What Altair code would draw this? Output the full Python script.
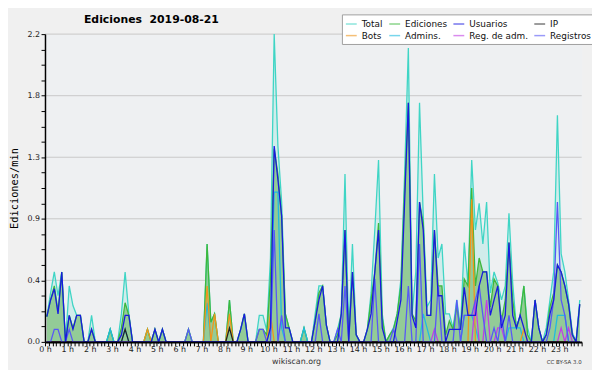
import altair as alt
import pandas as pd

slots_per_hour = 6

# legend order (the legend fills column by column: two rows of four)
series_names = ["Total", "Bots", "Ediciones", "Admins.", "Usuarios", "Reg. de adm.", "IP", "Registros"]
series_colors = ["#3fd5c5", "#f0961c", "#3db83d", "#1fbbe0", "#1a1ae0", "#c23fe4", "#222222", "#5858f6"]
draw_order = ["Total", "Ediciones", "Admins.", "Bots", "Reg. de adm.", "IP", "Registros", "Usuarios"]

# one row per hour, six 10-minute slots each (edits/min)
total = [
    [0.18, 0.35, 0.50, 0.33, 0.50, 0.00],
    [0.40, 0.26, 0.19, 0.19, 0.00, 0.00],
    [0.19, 0.00, 0.00, 0.00, 0.00, 0.09],
    [0.00, 0.00, 0.20, 0.50, 0.20, 0.00],
    [0.00, 0.00, 0.00, 0.09, 0.00, 0.09],
    [0.00, 0.09, 0.00, 0.00, 0.00, 0.00],
    [0.00, 0.00, 0.09, 0.00, 0.00, 0.00],
    [0.00, 0.70, 0.14, 0.20, 0.00, 0.00],
    [0.00, 0.30, 0.00, 0.00, 0.09, 0.20],
    [0.00, 0.00, 0.00, 0.19, 0.19, 0.08],
    [0.60, 2.20, 1.40, 1.00, 0.20, 0.10],
    [0.00, 0.00, 0.00, 0.10, 0.00, 0.00],
    [0.20, 0.40, 0.40, 0.12, 0.00, 0.00],
    [0.09, 0.20, 1.20, 0.05, 0.70, 0.05],
    [0.00, 0.00, 0.09, 0.35, 0.80, 1.30],
    [0.20, 0.00, 0.05, 0.10, 0.20, 0.45],
    [1.20, 2.10, 0.20, 0.50, 1.71, 0.90],
    [0.25, 0.30, 1.20, 0.60, 0.70, 0.20],
    [0.20, 0.10, 0.30, 0.10, 0.71, 0.41],
    [1.30, 0.80, 0.99, 0.70, 1.00, 0.35],
    [0.50, 0.42, 0.30, 0.40, 0.92, 0.42],
    [0.10, 0.19, 0.40, 0.10, 0.00, 0.30],
    [0.10, 0.00, 0.10, 0.30, 0.50, 1.62],
    [0.63, 0.50, 0.30, 0.07, 0.00, 0.30],
]

ediciones = [
    [0.18, 0.30, 0.40, 0.22, 0.50, 0.00],
    [0.19, 0.10, 0.19, 0.19, 0.00, 0.00],
    [0.09, 0.00, 0.00, 0.00, 0.00, 0.09],
    [0.00, 0.00, 0.10, 0.28, 0.19, 0.00],
    [0.00, 0.00, 0.00, 0.09, 0.00, 0.09],
    [0.00, 0.09, 0.00, 0.00, 0.00, 0.00],
    [0.00, 0.00, 0.09, 0.00, 0.00, 0.00],
    [0.00, 0.70, 0.14, 0.20, 0.00, 0.00],
    [0.00, 0.30, 0.00, 0.00, 0.09, 0.20],
    [0.00, 0.00, 0.00, 0.09, 0.09, 0.05],
    [0.45, 1.38, 1.20, 0.90, 0.20, 0.10],
    [0.00, 0.00, 0.00, 0.10, 0.00, 0.00],
    [0.15, 0.35, 0.40, 0.12, 0.00, 0.00],
    [0.05, 0.20, 0.80, 0.02, 0.50, 0.05],
    [0.00, 0.00, 0.09, 0.30, 0.50, 0.85],
    [0.17, 0.00, 0.05, 0.09, 0.20, 0.40],
    [1.10, 1.71, 0.20, 0.15, 1.00, 0.85],
    [0.19, 0.19, 0.80, 0.40, 0.40, 0.05],
    [0.15, 0.09, 0.25, 0.09, 0.45, 0.40],
    [1.10, 0.40, 0.60, 0.50, 0.50, 0.25],
    [0.45, 0.40, 0.15, 0.30, 0.71, 0.30],
    [0.10, 0.19, 0.40, 0.05, 0.00, 0.30],
    [0.10, 0.00, 0.05, 0.25, 0.35, 0.55],
    [0.50, 0.40, 0.27, 0.05, 0.00, 0.27],
]

usuarios = [
    [0.18, 0.30, 0.38, 0.20, 0.50, 0.00],
    [0.19, 0.09, 0.19, 0.19, 0.00, 0.00],
    [0.09, 0.00, 0.00, 0.00, 0.00, 0.00],
    [0.00, 0.00, 0.05, 0.19, 0.19, 0.00],
    [0.00, 0.00, 0.00, 0.00, 0.00, 0.09],
    [0.00, 0.09, 0.00, 0.00, 0.00, 0.00],
    [0.00, 0.00, 0.00, 0.00, 0.00, 0.00],
    [0.00, 0.00, 0.00, 0.00, 0.00, 0.00],
    [0.00, 0.00, 0.00, 0.00, 0.09, 0.20],
    [0.00, 0.00, 0.00, 0.00, 0.00, 0.00],
    [0.10, 1.40, 1.16, 0.90, 0.10, 0.10],
    [0.00, 0.00, 0.00, 0.00, 0.00, 0.00],
    [0.15, 0.30, 0.40, 0.12, 0.00, 0.00],
    [0.00, 0.20, 0.80, 0.00, 0.50, 0.05],
    [0.00, 0.00, 0.09, 0.20, 0.50, 0.80],
    [0.10, 0.00, 0.00, 0.00, 0.15, 0.30],
    [1.00, 1.71, 0.19, 0.10, 1.00, 0.80],
    [0.19, 0.19, 0.80, 0.33, 0.33, 0.00],
    [0.09, 0.09, 0.09, 0.09, 0.39, 0.19],
    [0.19, 0.19, 0.40, 0.50, 0.50, 0.19],
    [0.30, 0.40, 0.10, 0.19, 0.71, 0.19],
    [0.10, 0.19, 0.10, 0.00, 0.00, 0.30],
    [0.10, 0.00, 0.05, 0.20, 0.30, 0.55],
    [0.50, 0.40, 0.27, 0.05, 0.00, 0.27],
]

registros = [
    [0.00, 0.00, 0.09, 0.09, 0.00, 0.00],
    [0.09, 0.00, 0.00, 0.00, 0.00, 0.00],
    [0.00, 0.00, 0.00, 0.00, 0.00, 0.00],
    [0.00, 0.00, 0.00, 0.00, 0.00, 0.00],
    [0.00, 0.00, 0.00, 0.00, 0.00, 0.00],
    [0.00, 0.00, 0.00, 0.00, 0.00, 0.00],
    [0.00, 0.00, 0.09, 0.00, 0.00, 0.00],
    [0.00, 0.00, 0.00, 0.00, 0.00, 0.00],
    [0.00, 0.00, 0.00, 0.00, 0.00, 0.00],
    [0.00, 0.00, 0.00, 0.09, 0.09, 0.00],
    [0.00, 0.80, 0.00, 0.19, 0.00, 0.00],
    [0.00, 0.00, 0.00, 0.00, 0.00, 0.00],
    [0.00, 0.20, 0.00, 0.00, 0.00, 0.00],
    [0.09, 0.00, 0.40, 0.00, 0.00, 0.00],
    [0.00, 0.00, 0.00, 0.00, 0.45, 0.00],
    [0.00, 0.00, 0.00, 0.09, 0.00, 0.00],
    [0.00, 0.40, 0.00, 0.00, 0.70, 0.00],
    [0.00, 0.00, 0.00, 0.40, 0.00, 0.00],
    [0.00, 0.00, 0.30, 0.00, 0.19, 0.19],
    [0.19, 0.30, 0.40, 0.19, 0.00, 0.00],
    [0.10, 0.00, 0.19, 0.00, 0.19, 0.00],
    [0.00, 0.00, 0.00, 0.00, 0.00, 0.00],
    [0.00, 0.00, 0.00, 0.10, 0.30, 1.00],
    [0.30, 0.19, 0.00, 0.00, 0.00, 0.00],
]

admins = [
    [0.00, 0.00, 0.00, 0.00, 0.00, 0.00],
    [0.00, 0.00, 0.00, 0.00, 0.00, 0.00],
    [0.00, 0.00, 0.00, 0.00, 0.00, 0.09],
    [0.00, 0.00, 0.00, 0.09, 0.00, 0.00],
    [0.00, 0.00, 0.00, 0.00, 0.00, 0.00],
    [0.00, 0.00, 0.00, 0.00, 0.00, 0.00],
    [0.00, 0.00, 0.00, 0.00, 0.00, 0.00],
    [0.00, 0.28, 0.00, 0.00, 0.00, 0.00],
    [0.00, 0.00, 0.00, 0.00, 0.00, 0.00],
    [0.00, 0.00, 0.00, 0.00, 0.00, 0.00],
    [0.10, 1.07, 1.07, 0.10, 0.00, 0.00],
    [0.00, 0.00, 0.00, 0.10, 0.00, 0.00],
    [0.00, 0.00, 0.00, 0.00, 0.00, 0.00],
    [0.00, 0.00, 0.00, 0.00, 0.00, 0.00],
    [0.00, 0.00, 0.00, 0.00, 0.00, 0.00],
    [0.00, 0.00, 0.00, 0.00, 0.00, 0.00],
    [0.00, 0.00, 0.00, 0.00, 0.00, 0.20],
    [0.10, 0.00, 0.00, 0.00, 0.00, 0.00],
    [0.00, 0.00, 0.00, 0.00, 0.19, 0.19],
    [0.19, 0.10, 0.00, 0.00, 0.00, 0.00],
    [0.00, 0.00, 0.00, 0.00, 0.10, 0.10],
    [0.10, 0.10, 0.00, 0.00, 0.00, 0.00],
    [0.00, 0.00, 0.00, 0.00, 0.00, 0.19],
    [0.19, 0.19, 0.00, 0.00, 0.00, 0.00],
]

bots = [
    [0.00, 0.00, 0.00, 0.00, 0.00, 0.00],
    [0.00, 0.00, 0.00, 0.00, 0.00, 0.00],
    [0.00, 0.00, 0.00, 0.00, 0.00, 0.00],
    [0.00, 0.00, 0.00, 0.00, 0.00, 0.00],
    [0.00, 0.00, 0.00, 0.09, 0.00, 0.00],
    [0.00, 0.00, 0.00, 0.00, 0.00, 0.00],
    [0.00, 0.00, 0.00, 0.00, 0.00, 0.00],
    [0.00, 0.40, 0.00, 0.20, 0.00, 0.00],
    [0.00, 0.20, 0.00, 0.00, 0.00, 0.00],
    [0.00, 0.00, 0.00, 0.00, 0.00, 0.00],
    [0.20, 0.00, 0.00, 0.00, 0.00, 0.00],
    [0.00, 0.00, 0.00, 0.00, 0.00, 0.00],
    [0.00, 0.00, 0.00, 0.00, 0.00, 0.00],
    [0.00, 0.00, 0.00, 0.00, 0.00, 0.00],
    [0.00, 0.00, 0.00, 0.00, 0.00, 0.00],
    [0.00, 0.00, 0.00, 0.00, 0.00, 0.00],
    [0.00, 0.00, 0.00, 0.00, 0.00, 0.00],
    [0.00, 0.00, 0.00, 0.00, 0.00, 0.00],
    [0.00, 0.00, 0.00, 0.00, 0.00, 0.00],
    [1.02, 0.00, 0.00, 0.00, 0.00, 0.00],
    [0.00, 0.00, 0.00, 0.00, 0.00, 0.00],
    [0.00, 0.00, 0.09, 0.00, 0.00, 0.00],
    [0.00, 0.00, 0.00, 0.00, 0.00, 0.00],
    [0.00, 0.00, 0.00, 0.00, 0.00, 0.00],
]

reg_adm = [
    [0.00, 0.00, 0.00, 0.00, 0.00, 0.00],
    [0.00, 0.00, 0.00, 0.00, 0.00, 0.00],
    [0.00, 0.00, 0.00, 0.00, 0.00, 0.00],
    [0.00, 0.00, 0.00, 0.00, 0.00, 0.00],
    [0.00, 0.00, 0.00, 0.00, 0.00, 0.00],
    [0.00, 0.00, 0.00, 0.00, 0.00, 0.00],
    [0.00, 0.00, 0.00, 0.00, 0.00, 0.00],
    [0.00, 0.00, 0.00, 0.00, 0.00, 0.00],
    [0.00, 0.00, 0.00, 0.00, 0.00, 0.00],
    [0.00, 0.00, 0.00, 0.00, 0.00, 0.00],
    [0.00, 0.00, 0.00, 0.00, 0.00, 0.00],
    [0.00, 0.00, 0.00, 0.00, 0.00, 0.00],
    [0.00, 0.00, 0.00, 0.00, 0.00, 0.00],
    [0.00, 0.00, 0.00, 0.00, 0.00, 0.00],
    [0.00, 0.00, 0.00, 0.00, 0.00, 0.00],
    [0.00, 0.00, 0.00, 0.00, 0.00, 0.00],
    [0.00, 0.00, 0.00, 0.00, 0.00, 0.00],
    [0.00, 0.00, 0.09, 0.00, 0.00, 0.00],
    [0.00, 0.00, 0.00, 0.00, 0.00, 0.00],
    [0.00, 0.30, 0.00, 0.00, 0.30, 0.00],
    [0.00, 0.10, 0.10, 0.00, 0.00, 0.00],
    [0.00, 0.00, 0.00, 0.00, 0.00, 0.00],
    [0.00, 0.00, 0.00, 0.00, 0.00, 0.00],
    [0.10, 0.00, 0.10, 0.00, 0.00, 0.00],
]

ip = [
    [0.00, 0.00, 0.00, 0.00, 0.00, 0.00],
    [0.00, 0.00, 0.00, 0.00, 0.00, 0.00],
    [0.00, 0.00, 0.00, 0.00, 0.00, 0.00],
    [0.00, 0.00, 0.00, 0.09, 0.00, 0.00],
    [0.00, 0.00, 0.00, 0.00, 0.00, 0.00],
    [0.00, 0.00, 0.00, 0.00, 0.00, 0.00],
    [0.00, 0.00, 0.00, 0.00, 0.00, 0.00],
    [0.00, 0.00, 0.00, 0.00, 0.00, 0.00],
    [0.00, 0.10, 0.00, 0.00, 0.00, 0.00],
    [0.00, 0.00, 0.00, 0.00, 0.00, 0.00],
    [0.00, 0.00, 0.00, 0.00, 0.00, 0.00],
    [0.00, 0.00, 0.00, 0.00, 0.00, 0.00],
    [0.00, 0.00, 0.00, 0.00, 0.00, 0.00],
    [0.00, 0.00, 0.00, 0.00, 0.00, 0.00],
    [0.00, 0.00, 0.00, 0.00, 0.00, 0.00],
    [0.00, 0.00, 0.00, 0.00, 0.00, 0.00],
    [0.00, 0.00, 0.00, 0.00, 0.00, 0.00],
    [0.00, 0.00, 0.00, 0.00, 0.00, 0.00],
    [0.00, 0.00, 0.00, 0.00, 0.00, 0.00],
    [0.00, 0.00, 0.00, 0.00, 0.00, 0.00],
    [0.00, 0.00, 0.00, 0.00, 0.00, 0.00],
    [0.00, 0.00, 0.00, 0.00, 0.00, 0.00],
    [0.00, 0.00, 0.00, 0.00, 0.00, 0.00],
    [0.00, 0.00, 0.00, 0.00, 0.00, 0.00],
]

grid_values = [0.44, 0.88, 1.32, 1.76, 2.2]
y_tick_values = [round(k * 0.11, 2) for k in range(21)]
x_tick_values = [round(k / 6, 4) for k in range(145)]
title_text = "Ediciones\u00a0 2019-08-21"
source_text = "wikiscan.org"
license_text = "CC BY-SA 3.0"

series_values = {
    "Total": total, "Ediciones": ediciones, "Usuarios": usuarios, "IP": ip,
    "Bots": bots, "Admins.": admins, "Reg. de adm.": reg_adm, "Registros": registros,
}

rows = []
for name in draw_order:
    flat = [v for hour in series_values[name] for v in hour]
    for i, v in enumerate(flat):
        rows.append({"serie": name, "hora": (i + 0.5) / slots_per_hour, "valor": v})
df = pd.DataFrame(rows)

x_enc = alt.X(
    "hora:Q",
    scale=alt.Scale(domain=[0, 24], nice=False, zero=False),
    axis=alt.Axis(
        values=x_tick_values,
        labelExpr="abs(datum.value - round(datum.value)) < 0.01 && datum.value < 23.5 ? round(datum.value) + ' h' : ''",
        tickSize=4, tickColor="black", domainColor="black", domainWidth=2,
        labelFont="DejaVu Sans", labelFontSize=8, labelColor="#222", labelPadding=0,
        labelAngle=0, labelOverlap=False, labelFlush=False, grid=False,
        title=source_text, titleFont="DejaVu Sans", titleFontSize=8, titleFontWeight="normal",
        titleColor="#333", titleX=254.5, titleY=22, titleBaseline="alphabetic", titleAlign="center",
        zindex=1,
    ),
)

y_enc = alt.Y(
    "valor:Q",
    scale=alt.Scale(domain=[0, 2.2], nice=False),
    axis=alt.Axis(
        values=y_tick_values,
        labelExpr="abs(datum.value / 0.44 - round(datum.value / 0.44)) < 0.01 ? format(datum.value, '.1f') : ''",
        tickSize=4, tickColor="black", domainColor="black", domainWidth=1.5,
        labelFont="DejaVu Sans", labelFontSize=8, labelColor="#222", labelPadding=1.5,
        labelOverlap=False, labelFlush=False, grid=False,
        title="Ediciones/min", titleFont="DejaVu Sans Mono", titleFontSize=10.5,
        titleFontWeight="normal", titleColor="black", titlePadding=8, zindex=1,
    ),
)

base = alt.Chart(df)

grid = alt.Chart(pd.DataFrame({"valor": grid_values})).mark_rule(
    color="#c8c8c8", strokeWidth=1
).encode(y=y_enc)

shadow = alt.Chart(pd.DataFrame({"k": [0]})).mark_rect(color="#8c8c8c").encode(
    x=alt.value(304), x2=alt.value(548), y=alt.value(-17), y2=alt.value(10)
)

total_area = base.transform_filter(alt.datum.serie == "Total").mark_area(
    color="#40d8c8", opacity=0.16, interpolate="linear"
).encode(x=x_enc, y=y_enc)

edit_area = base.transform_filter(alt.datum.serie == "Ediciones").mark_area(
    color="#8dc88f", opacity=0.92, interpolate="linear"
).encode(x=x_enc, y=y_enc)

lines = base.mark_line(strokeWidth=1.3, interpolate="linear").encode(
    x=x_enc,
    y=y_enc,
    color=alt.Color(
        "serie:N",
        scale=alt.Scale(domain=series_names, range=series_colors),
        legend=alt.Legend(
            title=None, orient="none", legendX=301, legendY=-20, columns=4,
            symbolType="stroke", symbolSize=121, symbolStrokeWidth=1.5, symbolOpacity=0.6,
            labelFont="DejaVu Sans", labelFontSize=9, labelColor="#111", labelOffset=4,
            columnPadding=3, rowPadding=0, padding=3, fillColor="white", strokeColor="#a0a0a0",
            labelLimit=200,
        ),
    ),
)

cc = alt.Chart(pd.DataFrame({"t": [license_text]})).mark_text(
    align="right", baseline="alphabetic", font="DejaVu Sans", fontSize=5.5, color="#333"
).encode(x=alt.value(544), y=alt.value(334), text="t:N")

chart = alt.layer(grid, shadow, total_area, edit_area, lines, cc).properties(
    width=544,
    height=312,
    title=alt.TitleParams(
        title_text, font="DejaVu Sans", fontSize=11, fontWeight="bold", color="black",
        anchor="start", frame="group", dx=39.5, dy=15,
    ),
    background="#f0f0f0",
    autosize=alt.AutoSizeParams(type="none"),
    padding={"left": 37.5, "top": 24, "right": 10.5, "bottom": 26},
).configure_view(fill="#eef0f2", stroke="transparent")

chart.save("out.html", embed_options={"renderer": "svg", "actions": False})
